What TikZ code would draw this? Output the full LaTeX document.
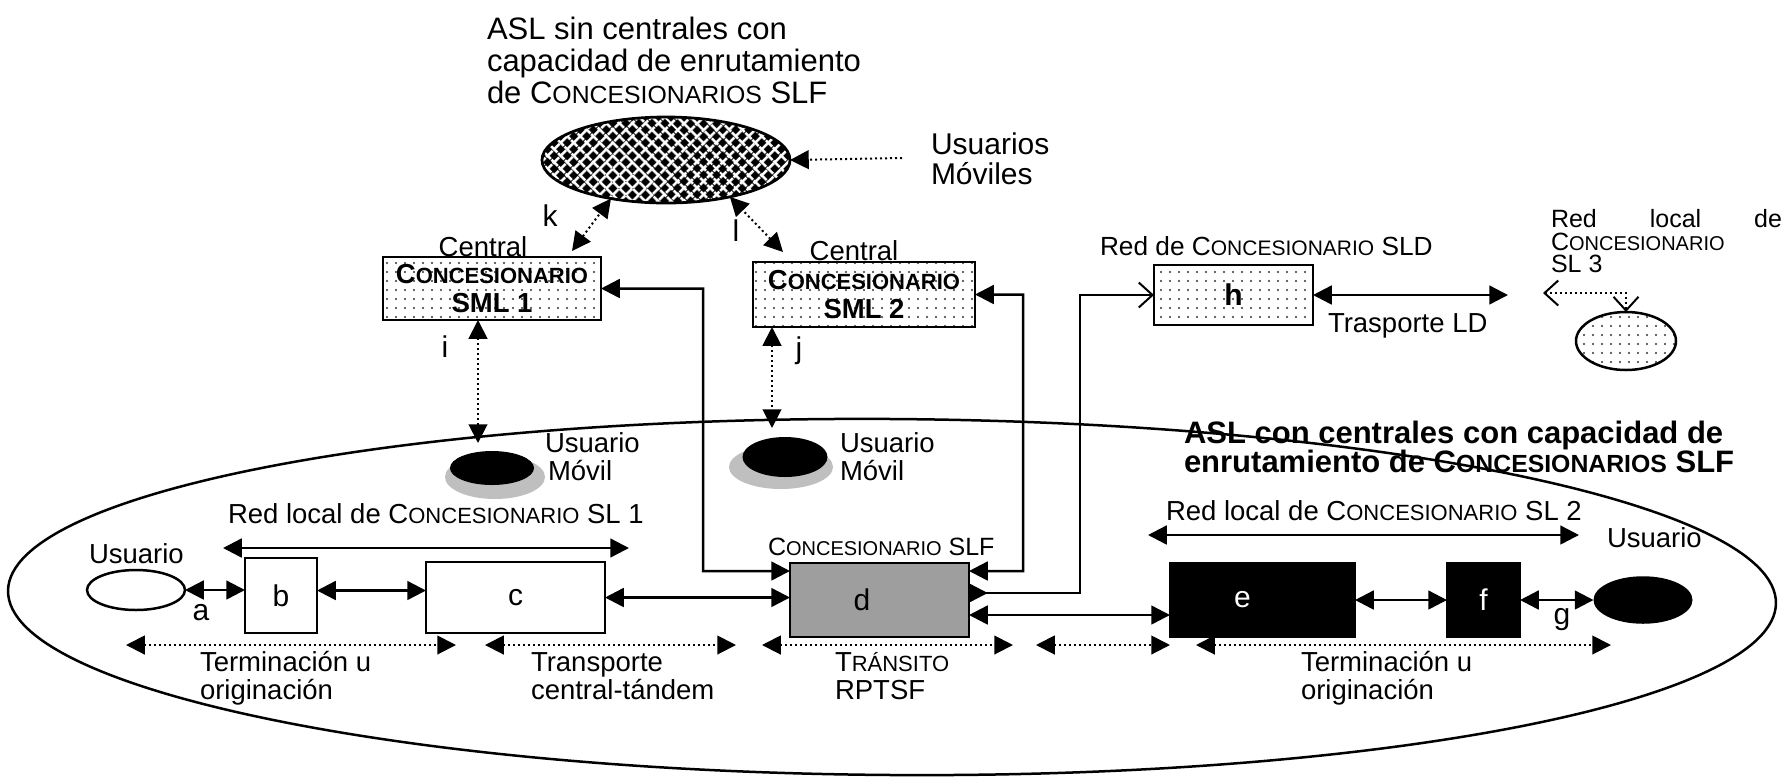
\documentclass[tikz,border=0pt]{standalone}
\usepackage{fontspec}
\setmainfont{Liberation Sans}
\usetikzlibrary{arrows.meta,shapes.geometric,patterns.meta}
\makeatletter
\newcommand\fsc[1]{{\fontsize{\fpeval{0.8*\f@size}}{\f@baselineskip}\selectfont #1}}
\makeatother
\begin{document}
\begin{tikzpicture}[x=0.4pt,y=-0.4pt,
  every node/.style={inner sep=0pt,outer sep=0pt},
  >={Triangle[length=7.5pt,width=7.5pt]},
  ttl/.style={font=\fontsize{12.4}{14}\selectfont,anchor=base west},
  lbl/.style={font=\fontsize{11}{13}\selectfont,anchor=base west},
  ltr/.style={font=\fontsize{12}{14}\selectfont},
  boxx/.style={draw,line width=1.1pt,rectangle},
  dotfill/.style={pattern={Dots[distance=3.6pt,radius=0.45pt]},pattern color=black!80},
  conn/.style={line width=1pt},
  dline/.style={line width=0.8pt,dash pattern=on 0.8pt off 1.2pt},
  barb/.tip={Straight Barb[length=5.5pt,width=10pt,line width=0.8pt]}
]
\fill[white] (0,0) rectangle (1789,776);
\useasboundingbox (0,0) rectangle (1789,776);

% big ellipse (ASL con centrales)
\node[draw,ellipse,line width=1pt,rotate=-0.4,minimum width=707.2pt,minimum height=142.4pt] (aslc) at (892,597) {};

% title
\node[ttl] (t1) at (487,39) {ASL sin centrales con};
\node[ttl] (t2) at (487,71) {capacidad de enrutamiento};
\node[ttl] (t3) at (487,103) {de C\fsc{ONCESIONARIOS} SLF};

% hatched ellipse
\node[ellipse,fill=black,minimum width=99.2pt,minimum height=34.4pt,
  postaction={pattern={Lines[angle=45,distance=4pt,line width=1.2pt]},pattern color=white},
  postaction={pattern={Lines[angle=-45,distance=4pt,line width=1.2pt]},pattern color=white},
  postaction={draw,line width=1.1pt}] (asl) at (666,160) {};

\node[lbl,font=\fontsize{12}{14}\selectfont] (um1) at (931,154) {Usuarios};
\node[lbl,font=\fontsize{12}{14}\selectfont] (um2) at (931,184) {Móviles};
\coordinate (umt) at (902,158);
\draw[dline,->] (umt) -- (asl.east);

% k and l
\coordinate (kend) at (572,251);
\draw[dline,<->] (kend) -- (asl.215);
\node[ltr] (klab) at (550,216) {k};
\coordinate (lend) at (783,252);
\draw[dline,<->] (lend) -- (asl.330);
\node[ltr] (llab) at (736,231) {l};

% SML boxes
\node[lbl,anchor=base] (cen1) at (483,256) {Central};
\node[boxx,dotfill,minimum width=87.2pt,minimum height=25.2pt,align=center,
  font=\bfseries\fontsize{11}{11.6}\selectfont] (sml1) at (492,288.5) {C\fsc{ONCESIONARIO}\\SML 1};
\node[lbl,anchor=base] (cen2) at (854,260) {Central};
\node[boxx,dotfill,minimum width=88.8pt,minimum height=26pt,align=center,
  font=\bfseries\fontsize{11}{11.6}\selectfont] (sml2) at (864,294.5) {C\fsc{ONCESIONARIO}\\SML 2};

% i and j
\coordinate (ib) at (478,443);
\draw[dline,<->] (sml1.south -| ib) -- (ib);
\node[ltr] (ilab) at (445,347) {i};
\coordinate (jb) at (772,428);
\draw[dline,<->] (sml2.south -| jb) -- (jb);
\node[ltr] (jlab) at (799,351) {j};

% Usuario Movil
\node[ellipse,fill=black!25,minimum width=40pt,minimum height=17.6pt] (m1s) at (495,477) {};
\node[ellipse,fill=black,minimum width=33.6pt,minimum height=13.6pt] (m1) at (492,468) {};
\node[lbl] (m1a) at (545,452) {Usuario};
\node[lbl] (m1b) at (548,480) {Móvil};
\node[ellipse,fill=black!25,minimum width=41.6pt,minimum height=17.6pt] (m2s) at (781,467) {};
\node[ellipse,fill=black,minimum width=34pt,minimum height=16pt] (m2) at (785,457) {};
\node[lbl] (m2a) at (840,452) {Usuario};
\node[lbl] (m2b) at (840,480) {Móvil};

% h and long distance
\node[lbl,font=\fontsize{10.5}{12}\selectfont] (sldt) at (1100,255) {Red de C\fsc{ONCESIONARIO} SLD};
\node[boxx,dotfill,minimum width=63.6pt,minimum height=24pt,font=\bfseries\fontsize{12}{14}\selectfont] (h) at (1233.5,295) {h};
\coordinate (tld) at (1508,295);
\draw[conn,<->] (h.east) -- (tld);
\node[lbl] (tldt) at (1328,332) {Trasporte LD};

% SL3
\node[lbl,font=\fontsize{10}{12}\selectfont] (sl3a) at (1551,227) {\makebox[92.4pt][s]{Red local de}};
\node[lbl,font=\fontsize{10}{12}\selectfont] (sl3b) at (1551,250) {C\fsc{ONCESIONARIO}};
\node[lbl,font=\fontsize{10}{12}\selectfont] (sl3c) at (1551,272) {SL 3};
\node[ellipse,draw,line width=1pt,dotfill,minimum width=40pt,minimum height=23.2pt] (sl3) at (1626,341) {};
\coordinate (sl3t) at (1543,293);
\draw[dline,barb-barb] (sl3t) -| (sl3.north);

% ASL con centrales text
\node[ttl,font=\bfseries\fontsize{12.4}{14}\selectfont] (ac1) at (1184,443) {ASL con centrales con capacidad de};
\node[ttl,font=\bfseries\fontsize{12.4}{14}\selectfont] (ac2) at (1184,472) {enrutamiento de C\fsc{ONCESIONARIOS} SLF};

% bottom row
\node[lbl] (u1t) at (89,563) {Usuario};
\node[ellipse,draw,fill=white,line width=1pt,minimum width=39.2pt,minimum height=16pt] (u1) at (136,590) {};
\node[boxx,fill=white,minimum width=28.8pt,minimum height=30pt,ltr] (b) at (281,595.5) {b};
\node[boxx,fill=white,minimum width=71.6pt,minimum height=28.4pt,ltr] (c) at (515.5,597.5) {c};
\node[lbl,font=\fontsize{10}{12}\selectfont] (slft) at (768,555) {C\fsc{ONCESIONARIO} SLF};
\node[boxx,fill=black!38,minimum width=71.6pt,minimum height=29.6pt,ltr] (d) at (879.5,600) {d\hspace*{14pt}};
\node[boxx,fill=black,text=white,minimum width=74pt,minimum height=29.6pt,ltr] (e) at (1262.5,600) {e\hspace*{16pt}};
\node[boxx,fill=black,text=white,minimum width=29.2pt,minimum height=29.6pt,ltr] (f) at (1483.5,600) {f};
\node[ellipse,fill=black,minimum width=39.6pt,minimum height=19pt] (u2) at (1643,600) {};
\node[lbl] (u2t) at (1607,547) {Usuario};

\node[ltr] (alab) at (201,613) {a};
\node[ltr] (glab) at (1562,620) {g};

\draw[conn,<->] (u1.east) -- (u1.east -| b.west);
\draw[conn,<->] ([yshift=2pt]b.east) -- ([yshift=2pt]b.east -| c.west);
\draw[conn,<->] (c.east) -- (c.east -| d.west);
\draw[conn,<->] (sml1.east) -| (703,571) -- ([yshift=11.6pt]d.west);
\draw[conn,<->] (sml2.east) -| (1023,571) -- ([yshift=11.6pt]d.east);
\draw[conn,{>}-{barb}] ([yshift=2.8pt]d.east) -| (1080,295) -- (h.west);
\draw[conn,<->] ([yshift=-6pt]d.east) -- ([yshift=-6pt]d.east -| e.west);
\draw[conn,<->] (e.east) -- (e.east -| f.west);
\draw[conn,<->] (f.east) -- (u2.west);

% local network spans
\node[lbl] (rl1) at (228,523) {Red local de C\fsc{ONCESIONARIO} SL 1};
\coordinate (rl1a) at (223,548);
\coordinate (rl1b) at (629,548);
\draw[conn,<->] (rl1a) -- (rl1b);
\node[lbl] (rl2) at (1166,520) {Red local de C\fsc{ONCESIONARIO} SL 2};
\coordinate (rl2a) at (1148,535);
\coordinate (rl2b) at (1579,535);
\draw[conn,<->] (rl2a) -- (rl2b);

% bottom dotted spans
\coordinate (s1a) at (126,645); \coordinate (s1b) at (456,645);
\coordinate (s2a) at (485,645); \coordinate (s2b) at (736,645);
\coordinate (s3a) at (762,645); \coordinate (s3b) at (1013,645);
\coordinate (s4a) at (1036,645); \coordinate (s4b) at (1170,645);
\coordinate (s5a) at (1196,645); \coordinate (s5b) at (1611,645);
\draw[dline,<->] (s1a) -- (s1b);
\draw[dline,<->] (s2a) -- (s2b);
\draw[dline,<->] (s3a) -- (s3b);
\draw[dline,<->] (s4a) -- (s4b);
\draw[dline,<->] (s5a) -- (s5b);

\node[lbl] (to1) at (200,671) {Terminación u};
\node[lbl] (to2) at (200,699) {originación};
\node[lbl] (tr1) at (531,671) {Transporte};
\node[lbl] (tr2) at (531,699) {central-tándem};
\node[lbl] (tn1) at (835,671) {T\fsc{RÁNSITO}};
\node[lbl] (tn2) at (835,699) {RPTSF};
\node[lbl] (tp1) at (1301,671) {Terminación u};
\node[lbl] (tp2) at (1301,699) {originación};
\end{tikzpicture}
\end{document}
